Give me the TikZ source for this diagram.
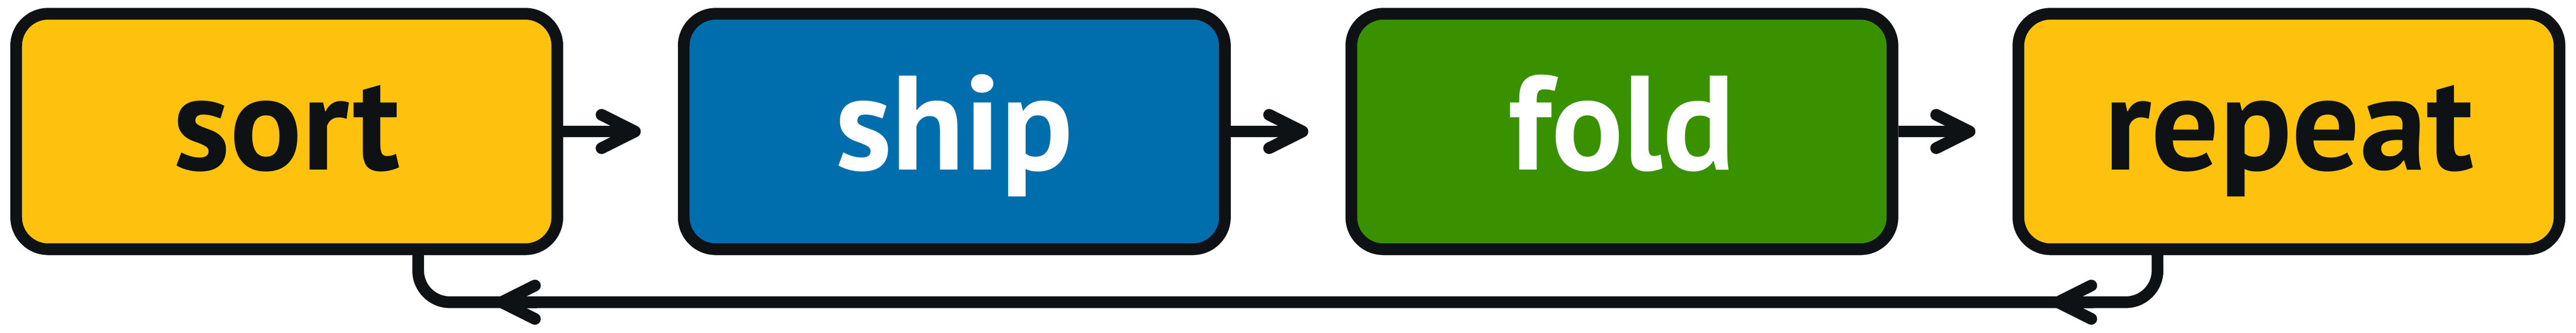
\documentclass[tikz,border=0pt]{standalone}
\usepackage{fontspec}
\setmainfont{PT Sans}
\usetikzlibrary{arrows.meta}

\definecolor{ink}{HTML}{0E1215}
\definecolor{sunny}{HTML}{FEC20E}
\definecolor{sea}{HTML}{006EAD}
\definecolor{leaf}{HTML}{399100}

\tikzset{
  stage/.style={rectangle, draw=ink, line width=3.4pt, rounded corners=9.3pt,
    minimum width=157.3pt, minimum height=68.4pt,
    text height=28pt, text depth=5.8pt,
    font=\fontsize{39}{39}\selectfont\bfseries},
  barb/.tip={Straight Barb[length=9.7pt, width=9.7pt, round]},
  wire/.style={draw=ink, line width=3.4pt, rounded corners=9.2pt},
  flow/.style={wire, -{barb}, shorten >=10.8pt}
}

\begin{document}
\begin{tikzpicture}[x=1pt, y=1pt]

\useasboundingbox (0, 0) rectangle (748.8, 96.6);

\node[stage, fill=sunny, text=ink] (sort) at (83.35, 58.4) {sort};
\node[stage, fill=sea, text=white] (ship) at (277.4, 58.4) {ship};
\node[stage, fill=leaf, text=white] (fold) at (471.45, 58.4) {fold};
\node[stage, fill=sunny, text=ink] (repeat) at (665.35, 58.4) {repeat};

\draw[flow] (sort) -- (ship);
\draw[flow] (ship) -- (fold);
\draw[flow] (fold) -- (repeat);

% way back, with two chevrons on it
\coordinate (back1) at (596.5, 8.8);
\coordinate (back2) at (144.1, 8.8);
\draw[wire] ([xshift=-38.2pt]repeat.south) |- (back1) -- (back2) -| ([xshift=38.2pt]sort.south);
\draw[wire, -{barb}] ([xshift=12pt]back1) -- (back1);
\draw[wire, -{barb}] ([xshift=12pt]back2) -- (back2);

\end{tikzpicture}
\end{document}
